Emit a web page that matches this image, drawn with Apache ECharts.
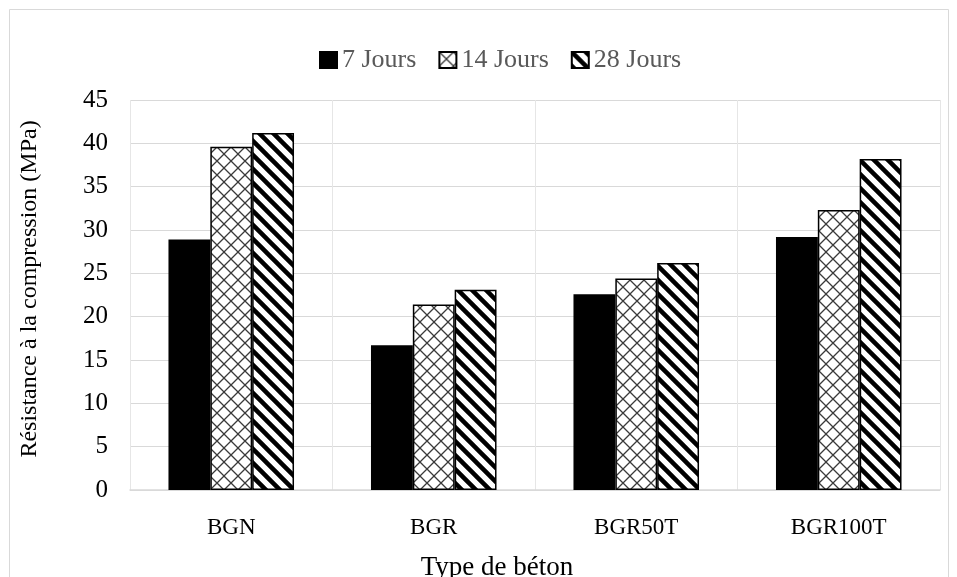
<!DOCTYPE html>
<html>
<head>
<meta charset="utf-8">
<script src="https://cdn.jsdelivr.net/npm/echarts@6/dist/echarts.min.js"></script>
<style>
  html, body { margin: 0; padding: 0; background: #fff; }
  #main { width: 957px; height: 577px; }
</style>
</head>
<body>
<div id="main"></div>
<script>
// data
var categories = ['BGN', 'BGR', 'BGR50T', 'BGR100T'];
var seriesNames = ['7 Jours', '14 Jours', '28 Jours'];
var jours7 = [28.9, 16.7, 22.6, 29.2];
var jours14 = [39.6, 21.4, 24.4, 32.3];
var jours28 = [41.2, 23.1, 26.2, 38.2];
var yTicks = [0, 5, 10, 15, 20, 25, 30, 35, 40, 45];

var serif = '"Liberation Serif", "Times New Roman", serif';

// cross hatch pattern (14 Jours)
function crossPattern() {
    var c = document.createElement('canvas');
    c.width = 14; c.height = 14;
    var ctx = c.getContext('2d');
    ctx.fillStyle = '#fff';
    ctx.fillRect(0, 0, 14, 14);
    ctx.strokeStyle = '#3a3a3a';
    ctx.lineWidth = 1.3;
    ctx.beginPath();
    ctx.moveTo(0, 0); ctx.lineTo(14, 14);
    ctx.moveTo(14, 0); ctx.lineTo(0, 14);
    ctx.stroke();
    return c;
}

// wide diagonal stripes (28 Jours)
function stripePattern() {
    var c = document.createElement('canvas');
    c.width = 14; c.height = 14;
    var ctx = c.getContext('2d');
    ctx.fillStyle = '#fff';
    ctx.fillRect(0, 0, 14, 14);
    ctx.strokeStyle = '#000';
    ctx.lineWidth = 4.5;
    ctx.beginPath();
    [-14, 0, 14].forEach(function (dx) {
        ctx.moveTo(dx - 2, -2);
        ctx.lineTo(dx + 16, 16);
    });
    ctx.stroke();
    return c;
}

var chart = echarts.init(document.getElementById('main'));

var barStyle = function (fill) {
    return {
        color: fill,
        borderColor: '#000',
        borderWidth: 1.5
    };
};

option = {
    backgroundColor: '#fff',
    animation: false,
    graphic: [{
        type: 'rect',
        shape: { x: 9.5, y: 9.5, width: 939, height: 600 },
        style: { fill: 'none', stroke: '#d9d9d9', lineWidth: 1 },
        silent: true
    }],
    legend: {
        top: 42,
        left: 314,
        itemWidth: 17,
        itemHeight: 16,
        itemGap: 22,
        icon: 'rect',
        textStyle: { fontFamily: serif, fontSize: 26, color: '#595959' },
        data: seriesNames
    },
    grid: {
        left: 130,
        right: 17,
        top: 100,
        bottom: 87,
        outerBoundsMode: 'none'
    },
    xAxis: {
        type: 'category',
        data: categories,
        name: 'Type de béton',
        nameLocation: 'middle',
        nameGap: 64,
        nameTextStyle: { fontFamily: serif, fontSize: 27, color: '#000', padding: [0, 76, 0, 0] },
        axisLine: { lineStyle: { color: '#d9d9d9', width: 1.5 } },
        axisTick: { show: false },
        axisLabel: { fontFamily: serif, fontSize: 23, color: '#000', margin: 26 },
        splitLine: { show: true, lineStyle: { color: '#e6e6e6', width: 1 } }
    },
    yAxis: {
        type: 'value',
        min: yTicks[0],
        max: yTicks[yTicks.length - 1],
        interval: 5,
        name: 'Résistance à la compression (MPa)',
        nameLocation: 'middle',
        nameGap: 88,
        nameTextStyle: { fontFamily: serif, fontSize: 24, color: '#000', padding: [0, 0, 0, 12] },
        axisLine: { show: false },
        axisTick: { show: false },
        axisLabel: { fontFamily: serif, fontSize: 25, color: '#000', margin: 22 },
        splitLine: { lineStyle: { color: '#d9d9d9', width: 1 } }
    },
    series: [
        {
            name: seriesNames[0],
            type: 'bar',
            barGap: '0%',
            barCategoryGap: '38%',
            itemStyle: barStyle('#000'),
            data: jours7
        },
        {
            name: seriesNames[1],
            type: 'bar',
            barGap: '0%',
            barCategoryGap: '38%',
            itemStyle: barStyle({ image: crossPattern(), repeat: 'repeat' }),
            data: jours14
        },
        {
            name: seriesNames[2],
            type: 'bar',
            barGap: '0%',
            barCategoryGap: '38%',
            itemStyle: barStyle({ image: stripePattern(), repeat: 'repeat' }),
            data: jours28
        }
    ]
};

chart.setOption(option);
</script>
</body>
</html>
